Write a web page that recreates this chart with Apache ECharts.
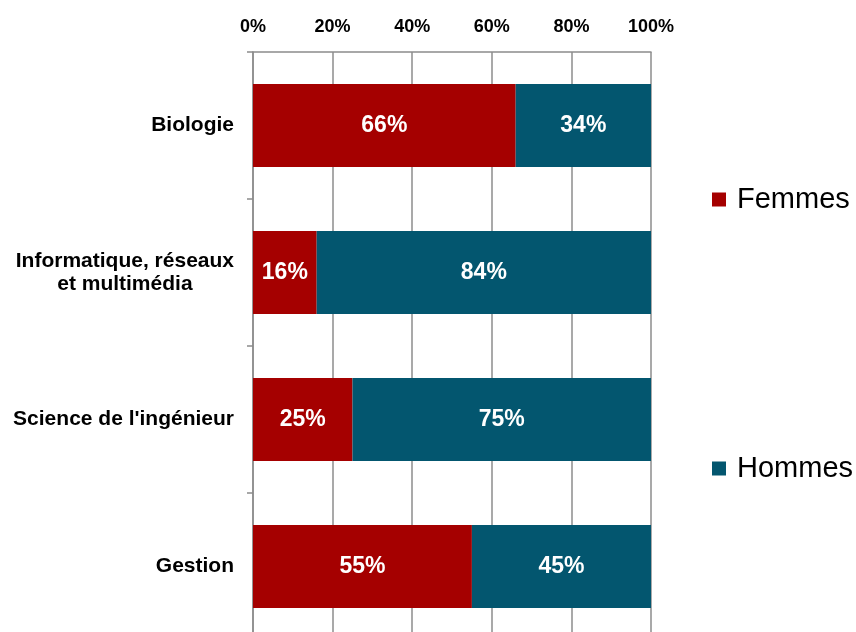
<!DOCTYPE html>
<html>
<head>
<meta charset="utf-8">
<script src="https://cdn.jsdelivr.net/npm/echarts@6/dist/echarts.min.js"></script>
<style>
  html, body { margin: 0; padding: 0; background: #fff; overflow: hidden; }
  #chart { width: 856px; height: 640px; }
</style>
</head>
<body>
<div id="chart"></div>
<script>
const categories = ['Biologie', 'Informatique, réseaux\net multimédia', "Science de l'ingénieur", 'Gestion'];
const femmes = [66, 16, 25, 55];
const hommes = [34, 84, 75, 45];
const xTicks = [0, 20, 40, 60, 80, 100];

const chart = echarts.init(document.getElementById('chart'));

const barLabel = {
  show: true,
  position: 'inside',
  color: '#fff',
  fontFamily: 'Liberation Sans, Arial',
  fontWeight: 'bold',
  fontSize: 23,
  formatter: p => p.value + '%'
};

chart.setOption({
  animation: false,
  grid: { left: 253, width: 398, top: 52, height: 588 },
  legend: {
    orient: 'vertical',
    left: 712,
    top: 185,
    padding: 0,
    itemWidth: 14,
    itemHeight: 14,
    itemGap: 240,
    icon: 'rect',
    textStyle: { fontFamily: 'Liberation Sans, Arial', fontSize: 29, color: '#000', padding: [0, 0, 0, 6] },
    data: ['Femmes', 'Hommes']
  },
  xAxis: {
    type: 'value',
    position: 'top',
    min: xTicks[0],
    max: xTicks[xTicks.length - 1],
    interval: 20,
    axisLine: { show: true, lineStyle: { color: '#8c8c8c', width: 1.5 } },
    axisTick: { show: false },
    splitLine: { lineStyle: { color: '#8c8c8c', width: 1.5 } },
    axisLabel: {
      margin: 16,
      color: '#000',
      fontFamily: 'Liberation Sans, Arial',
      fontWeight: 'bold',
      fontSize: 18,
      formatter: '{value}%'
    }
  },
  yAxis: {
    type: 'category',
    inverse: true,
    data: categories,
    axisLine: { lineStyle: { color: '#8c8c8c', width: 1.5 } },
    axisTick: { show: true, length: 6, lineStyle: { color: '#8c8c8c', width: 1.5 } },
    axisLabel: {
      margin: 19,
      formatter: v => v.split('\n').map(s => '{c|' + s + '}').join('\n'),
      rich: {
        c: {
          align: 'center',
          color: '#000',
          fontFamily: 'Liberation Sans, Arial',
          fontWeight: 'bold',
          fontSize: 21,
          lineHeight: 23
        }
      }
    }
  },
  series: [
    {
      name: 'Femmes',
      type: 'bar',
      stack: 'total',
      barWidth: '56.5%',
      itemStyle: { color: '#a50000' },
      label: barLabel,
      data: femmes
    },
    {
      name: 'Hommes',
      type: 'bar',
      stack: 'total',
      itemStyle: { color: '#03566f' },
      label: barLabel,
      data: hommes
    }
  ]
});
</script>
</body>
</html>
